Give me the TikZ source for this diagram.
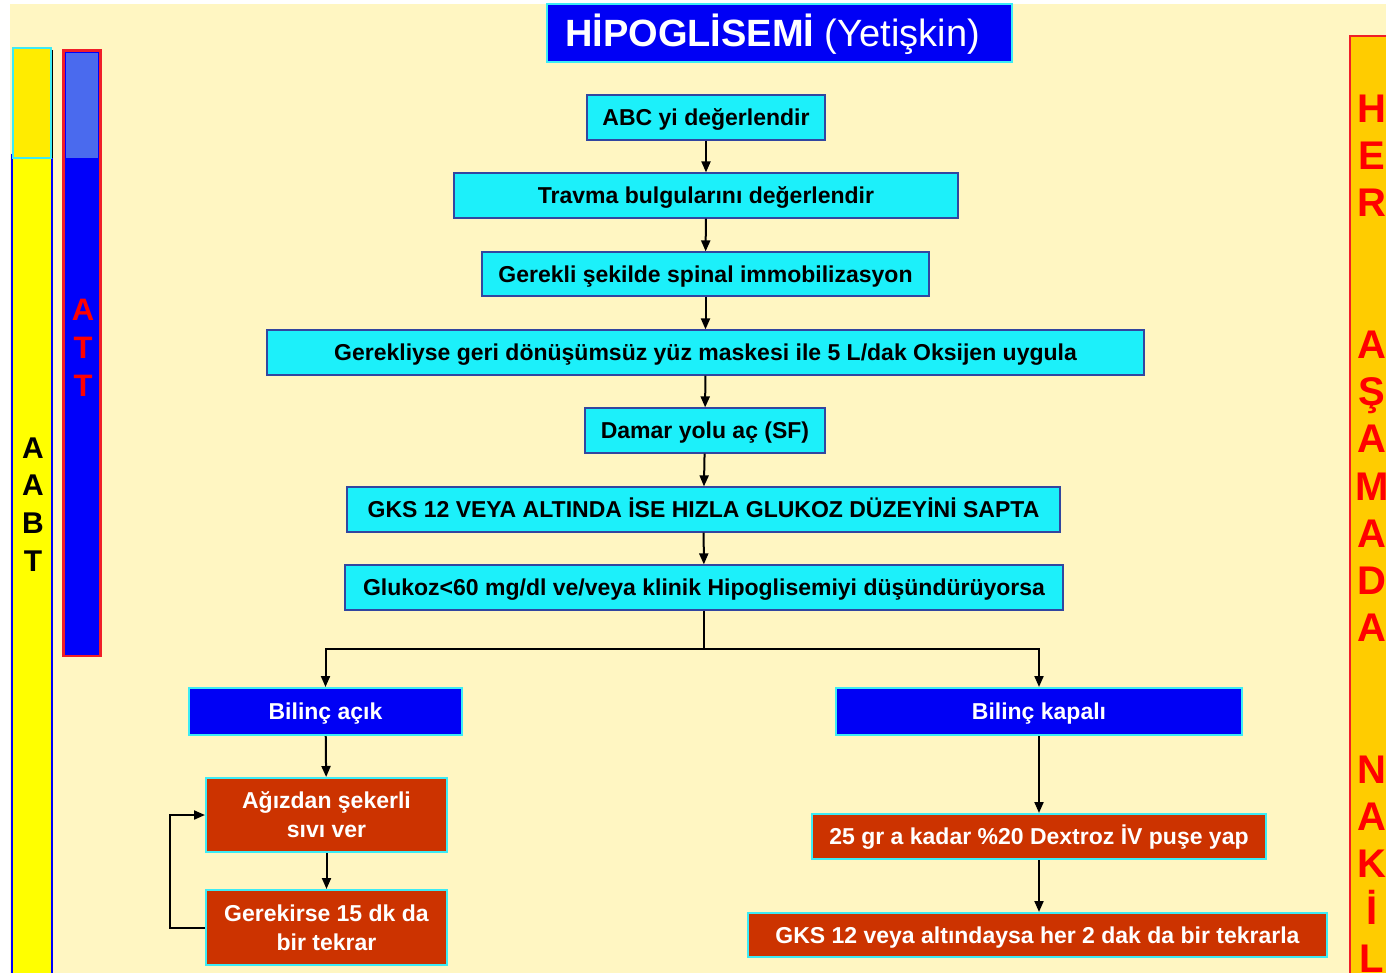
\documentclass[tikz,border=0pt]{standalone}
\usepackage{fontspec}
\setmainfont{Liberation Sans}
\usetikzlibrary{arrows.meta}
\definecolor{cream}{RGB}{255,246,194}
\definecolor{boxcyan}{RGB}{28,240,250}
\definecolor{boxedge}{RGB}{50,70,160}
\definecolor{edgecyan}{RGB}{60,235,245}
\definecolor{deepblue}{RGB}{0,0,245}
\definecolor{brick}{RGB}{204,51,0}
\definecolor{barblue}{RGB}{0,0,250}
\definecolor{barpale}{RGB}{74,106,238}
\definecolor{baryellow}{RGB}{255,255,0}
\definecolor{baryellowtop}{RGB}{255,236,0}
\definecolor{bargold}{RGB}{255,204,0}
\definecolor{barred}{RGB}{240,30,40}
\begin{document}
\begin{tikzpicture}[x=1pt,y=-1pt,
  box/.style={draw, line width=1.2pt, inner sep=0pt, align=center,
    font=\fontsize{23}{29}\selectfont\bfseries},
  oneline/.style={text height=18pt, text depth=1.5pt},
  cyanbox/.style={box, oneline, fill=boxcyan, draw=boxedge},
  bluebox/.style={box, oneline, fill=deepblue, draw=edgecyan, line width=2pt, text=white},
  redbox/.style={box, fill=brick, draw=edgecyan, line width=2pt, text=white},
  arr/.style={-{Triangle[length=11pt,width=9pt]}, line width=2pt},
  barletter/.style={anchor=base, inner sep=0pt, font=\fontsize{30}{30}\selectfont\bfseries}]
\useasboundingbox (0,0) rectangle (1386,973);
\fill[white] (0,0) rectangle (1386,973);
\fill[cream] (10,4) rectangle (1386,973);

% left side bars
\draw[draw=barblue, fill=baryellow, line width=1.5pt] (12,155) rectangle (52,985);
\draw[draw=edgecyan, fill=baryellowtop, line width=2pt] (13,48) rectangle (51,158);
\draw[black, line width=1pt] (52,50) -- (52,158);
\draw[draw=barred, fill=barblue, line width=2.5pt] (63.5,50.5) rectangle (100.5,656);
\fill[barpale] (66,53) rectangle (98,158);
\foreach \L/\i in {A/0,A/1,B/2,T/3}
  \node[barletter] at (33,458+37.7*\i) {\L};
\foreach \L/\i in {A/0,T/1,T/2}
  \node[barletter, text=red, font=\fontsize{31}{31}\selectfont\bfseries] at (83,321+37.5*\i) {\L};

% right side bar
\draw[draw=barred, fill=bargold, line width=2pt] (1350,36) rectangle (1400,990);
\foreach \L/\i in {H/0,E/1,R/2,A/5,Ş/6,A/7,M/8,A/9,D/10,A/11,N/14,A/15,K/16,İ/17,L/18}
  \node[barletter, text=red, font=\fontsize{40}{40}\selectfont\bfseries] at (1372,122.5+47.2*\i) {\L};

% title
\node[fill=deepblue, draw=edgecyan, line width=1.5pt, minimum width=465pt, minimum height=58pt,
  inner sep=0pt, text=white] (title) at (779.5,33) {};
\node[text=white, inner sep=0pt, font=\fontsize{38}{40}\selectfont] at ([xshift=-7pt,yshift=-1pt]title.center)
  {\bfseries HİPOGLİSEMİ \mdseries(Yetişkin)};

% main sequence
\node[cyanbox, minimum width=238pt, minimum height=45pt] (abc) at (706,117.5) {ABC yi değerlendir};
\node[cyanbox, minimum width=504pt, minimum height=45pt] (travma) at (706,195.5) {Travma bulgularını değerlendir};
\node[cyanbox, minimum width=447pt, minimum height=44pt] (spinal) at (705.5,274) {Gerekli şekilde spinal immobilizasyon};
\node[cyanbox, minimum width=877pt, minimum height=45pt] (oksijen) at (705.5,352.5) {Gerekliyse geri dönüşümsüz yüz maskesi ile 5 L/dak Oksijen uygula};
\node[cyanbox, minimum width=240pt, minimum height=45pt] (damar) at (705,430.5) {Damar yolu aç (SF)};
\node[cyanbox, minimum width=713pt, minimum height=45pt] (gks) at (703.5,509.5) {GKS 12 VEYA ALTINDA İSE HIZLA GLUKOZ DÜZEYİNİ SAPTA};
\node[cyanbox, minimum width=718pt, minimum height=45pt] (glukoz) at (704,587.5) {Glukoz<60 mg/dl ve/veya klinik Hipoglisemiyi düşündürüyorsa};

% branches
\node[bluebox, minimum width=273pt, minimum height=47pt] (acik) at (325.5,711.5) {Bilinç açık};
\node[bluebox, minimum width=406pt, minimum height=47pt] (kapali) at (1039,711.5) {Bilinç kapalı};
\node[redbox, minimum width=241pt, minimum height=74pt] (agiz) at (326.5,815) {Ağızdan şekerli\\sıvı ver};
\node[redbox, minimum width=241pt, minimum height=75pt] (tekrar) at (326.5,927.5) {Gerekirse 15 dk da\\bir tekrar};
\node[redbox, oneline, minimum width=454pt, minimum height=45pt] (dextroz) at (1039,836.5) {25 gr a kadar \%20 Dextroz İV puşe yap};
\node[redbox, oneline, minimum width=579pt, minimum height=44pt] (gksiki) at (1037.5,935) {GKS 12 veya altındaysa her 2 dak da bir tekrarla};

% connectors
\draw[arr] (abc) -- (travma);
\draw[arr] (travma) -- (spinal);
\draw[arr] (spinal) -- (oksijen);
\draw[arr] (oksijen) -- (damar);
\draw[arr] (damar) -- (gks);
\draw[arr] (gks) -- (glukoz);
\coordinate (fork) at (704,649);
\draw[arr] (glukoz.south) -- (fork) -| (acik.north);
\draw[arr] (fork) -| (kapali.north);
\draw[arr] (acik) -- (agiz);
\draw[arr] (agiz) -- (tekrar);
\draw[arr] (tekrar.west) -- ++(-35,0) |- (agiz.west);
\draw[arr] (kapali) -- (dextroz);
\draw[arr] (dextroz.south) -- (gksiki.north -| dextroz.south);
\end{tikzpicture}
\end{document}
